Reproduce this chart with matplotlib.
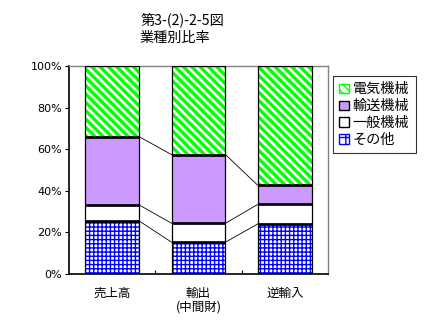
import numpy as np
import matplotlib.pyplot as plt
import matplotlib as mpl
from matplotlib.patches import Patch

plt.rcParams["font.family"] = ["Noto Sans CJK JP", "DejaVu Sans"]

# data (shares, %)
categories = ["売上高", "輸出\n(中間財)", "逆輸入"]
series = ["その他", "一般機械", "輸送機械", "電気機械"]
other = [25.5, 15.3, 24.1]
general = [7.7, 9.1, 9.4]
transport = [32.8, 33.0, 9.1]
electric = [34.0, 42.6, 57.4]

values = [other, general, transport, electric]
faces = ["white", "white", "#CC99FF", "white"]
hatches = ["++++", None, None, "\\\\\\\\"]
hcolors = ["#0000FF", None, None, "#00FF00"]
hlw = [1.0, 1.0, 1.0, 2.4]

fig = plt.figure(figsize=(4.28, 3.24), dpi=100)
ax = fig.add_axes([69 / 428, 50 / 324, 259 / 428, 208 / 324])

x = np.arange(len(categories))
w = 0.625
bottom = np.zeros(len(categories))
for vals, fc, hat, hc, lw in zip(values, faces, hatches, hcolors, hlw):
    vals = np.array(vals)
    if hat:
        bars = ax.bar(x, vals, w, bottom=bottom, color=fc, edgecolor=hc,
                      hatch=hat, linewidth=0, zorder=2)
        for b in bars:
            if hasattr(b, "set_hatch_linewidth"):
                b.set_hatch_linewidth(lw)
    else:
        ax.bar(x, vals, w, bottom=bottom, color=fc, linewidth=0, zorder=2)
    ax.bar(x, vals, w, bottom=bottom, fill=False, edgecolor="black",
           linewidth=0.9, zorder=3)
    bottom = bottom + vals
    # thick boundary lines at segment tops
    if not np.allclose(bottom, 100):
        ax.hlines(bottom, x - w / 2, x + w / 2, color="black", lw=1.9, zorder=4)

# connector lines between bars
cum = np.cumsum(np.array(values), axis=0)
for level in cum[:-1]:
    for i in range(len(categories) - 1):
        ax.plot([x[i] + w / 2, x[i + 1] - w / 2], [level[i], level[i + 1]],
                color="black", lw=0.6, zorder=1)

ax.set_xlim(-0.5, 2.5)
ax.set_ylim(0, 100)
ax.set_yticks(np.arange(0, 101, 20))
ax.set_yticklabels([f"{v}%" for v in range(0, 101, 20)], fontsize=8,
                   family=["DejaVu Sans"])
ax.set_xticks(x)
ax.set_xticklabels(categories, fontsize=9, linespacing=1.15)
ax.tick_params(axis="x", length=0, pad=9)
ax.set_xticks([0.5, 1.5], minor=True)
ax.tick_params(axis="x", which="minor", direction="in", length=3, width=0.8)
ax.tick_params(axis="y", direction="out", length=3, width=0.8, pad=2)

for s in ["top", "right"]:
    ax.spines[s].set_color("#808080")
    ax.spines[s].set_linewidth(1.0)
for s in ["left", "bottom"]:
    ax.spines[s].set_color("black")
    ax.spines[s].set_linewidth(1.2)

handles = [
    Patch(facecolor="white", edgecolor="#00FF00", hatch="\\\\\\\\", label="電気機械"),
    Patch(facecolor="#CC99FF", edgecolor="black", label="輸送機械"),
    Patch(facecolor="white", edgecolor="black", label="一般機械"),
    Patch(facecolor="white", edgecolor="#0000FF", hatch="++", label="その他"),
]
leg = fig.legend(handles=handles, loc="upper left",
                 bbox_to_anchor=(333 / 428, 1 - 76 / 324), fontsize=10.2,
                 frameon=True, fancybox=False, edgecolor="black",
                 handlelength=0.65, handleheight=0.65, handletextpad=0.3,
                 labelspacing=0.2, borderpad=0.45, borderaxespad=0)
leg.get_frame().set_linewidth(0.8)

fig.text(140 / 428, 1 - 20 / 324, "第3-(2)-2-5図", fontsize=10.2, va="center")
fig.text(140 / 428, 1 - 38 / 324, "業種別比率", fontsize=10.2, va="center")

fig.savefig("out.png", dpi=100)
